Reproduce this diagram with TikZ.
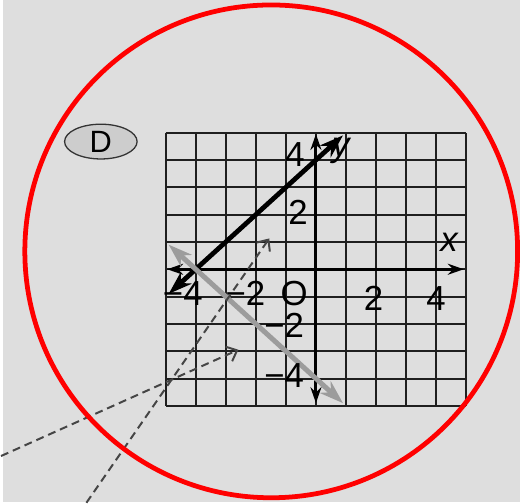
\documentclass[tikz,border=0pt]{standalone}
\usepackage{fontspec}
\setmainfont{Liberation Sans}
\usetikzlibrary{positioning, arrows.meta, shapes.geometric}

\definecolor{pagegray}{HTML}{DEDEDE}
\definecolor{badgegray}{HTML}{CDCDCD}
\definecolor{linegray}{HTML}{9C9C9C}
\definecolor{dashgray}{HTML}{454545}

\begin{document}
\begin{tikzpicture}[
  x=1pt, y=-1pt,
  >=Stealth,
  gridline/.style={line width=2pt, black!88},
  axisline/.style={line width=3pt, black, {Stealth[length=16pt,width=11pt]}-{Stealth[length=16pt,width=11pt]}},
  ticklabel/.style={font=\fontsize{35}{35}\selectfont, inner sep=0pt},
  pointer/.style={line width=2pt, dashgray, dash pattern=on 8pt off 5pt,
    -{Straight Barb[length=9pt,width=16pt,line width=2pt]}},
]

% --- Background and frame ---
\fill[pagegray] (0,0) rectangle (520,505);

% --- Choice badge ---
\node[ellipse, draw=black!80, line width=1.3pt, fill=badgegray,
  minimum width=73pt, minimum height=35pt, inner sep=0pt,
  font=\fontsize{31}{31}\selectfont] (choice) at (98.5,142.5) {D};

% --- Coordinate grid ---
\begin{scope}[shift={(315,271)}, x=30.25pt, y=27.5pt]
  \foreach \i in {-5,...,5} {
    \draw[gridline] (\i,-5) -- (\i,5);
    \draw[gridline] (-5,\i) -- (5,\i);
  }
  % axes
  \draw[axisline] (-4.95,0) -- (4.92,0);
  \draw[axisline] (0,-4.9) -- (0,4.95);

  % y = x + 4
  \draw[line width=4.8pt, black,
    {Stealth[length=24pt,width=16pt]}-{Stealth[length=24pt,width=16pt]}]
    (-4.9,-0.9) -- (0.9,4.9);
  % y = -x - 4
  \draw[line width=5pt, linegray,
    {Stealth[length=24pt,width=16pt]}-{Stealth[length=24pt,width=16pt]}]
    (-4.9,0.9) -- (0.9,-4.9);
\end{scope}

% --- Axis labels ---
\foreach \px/\py/\lab/\nm in {181/295/{−4}/xm4, 244/295/{−2}/xm2, 373/300/2/xp2,
  436/300/4/xp4, 294/156/4/yp4, 297/214/2/yp2, 283/327/{−2}/ym2, 283/378/{−4}/ym4} {
  \node[ticklabel] (\nm) at (\px,\py) {\lab};
}
\node[ticklabel] (orig) at (293,295) {O};
\node[ticklabel, font=\fontsize{35}{35}\selectfont\itshape] (xname) at (449,244) {x};
\node[ticklabel, font=\fontsize{35}{35}\selectfont\itshape] (yname) at (340,152) {y};

% --- Dashed pointers ---
\coordinate (ptrA) at (-2,459);
\coordinate (tipA) at (237,352);
\coordinate (ptrB) at (84,506);
\coordinate (tipB) at (268,240);
\draw[pointer] (ptrA) -- (tipA);
\draw[pointer] (ptrB) -- (tipB);

% --- Red marking circle ---
\draw[red, line width=4.8pt] (270,253) circle (248);

\end{tikzpicture}
\end{document}
